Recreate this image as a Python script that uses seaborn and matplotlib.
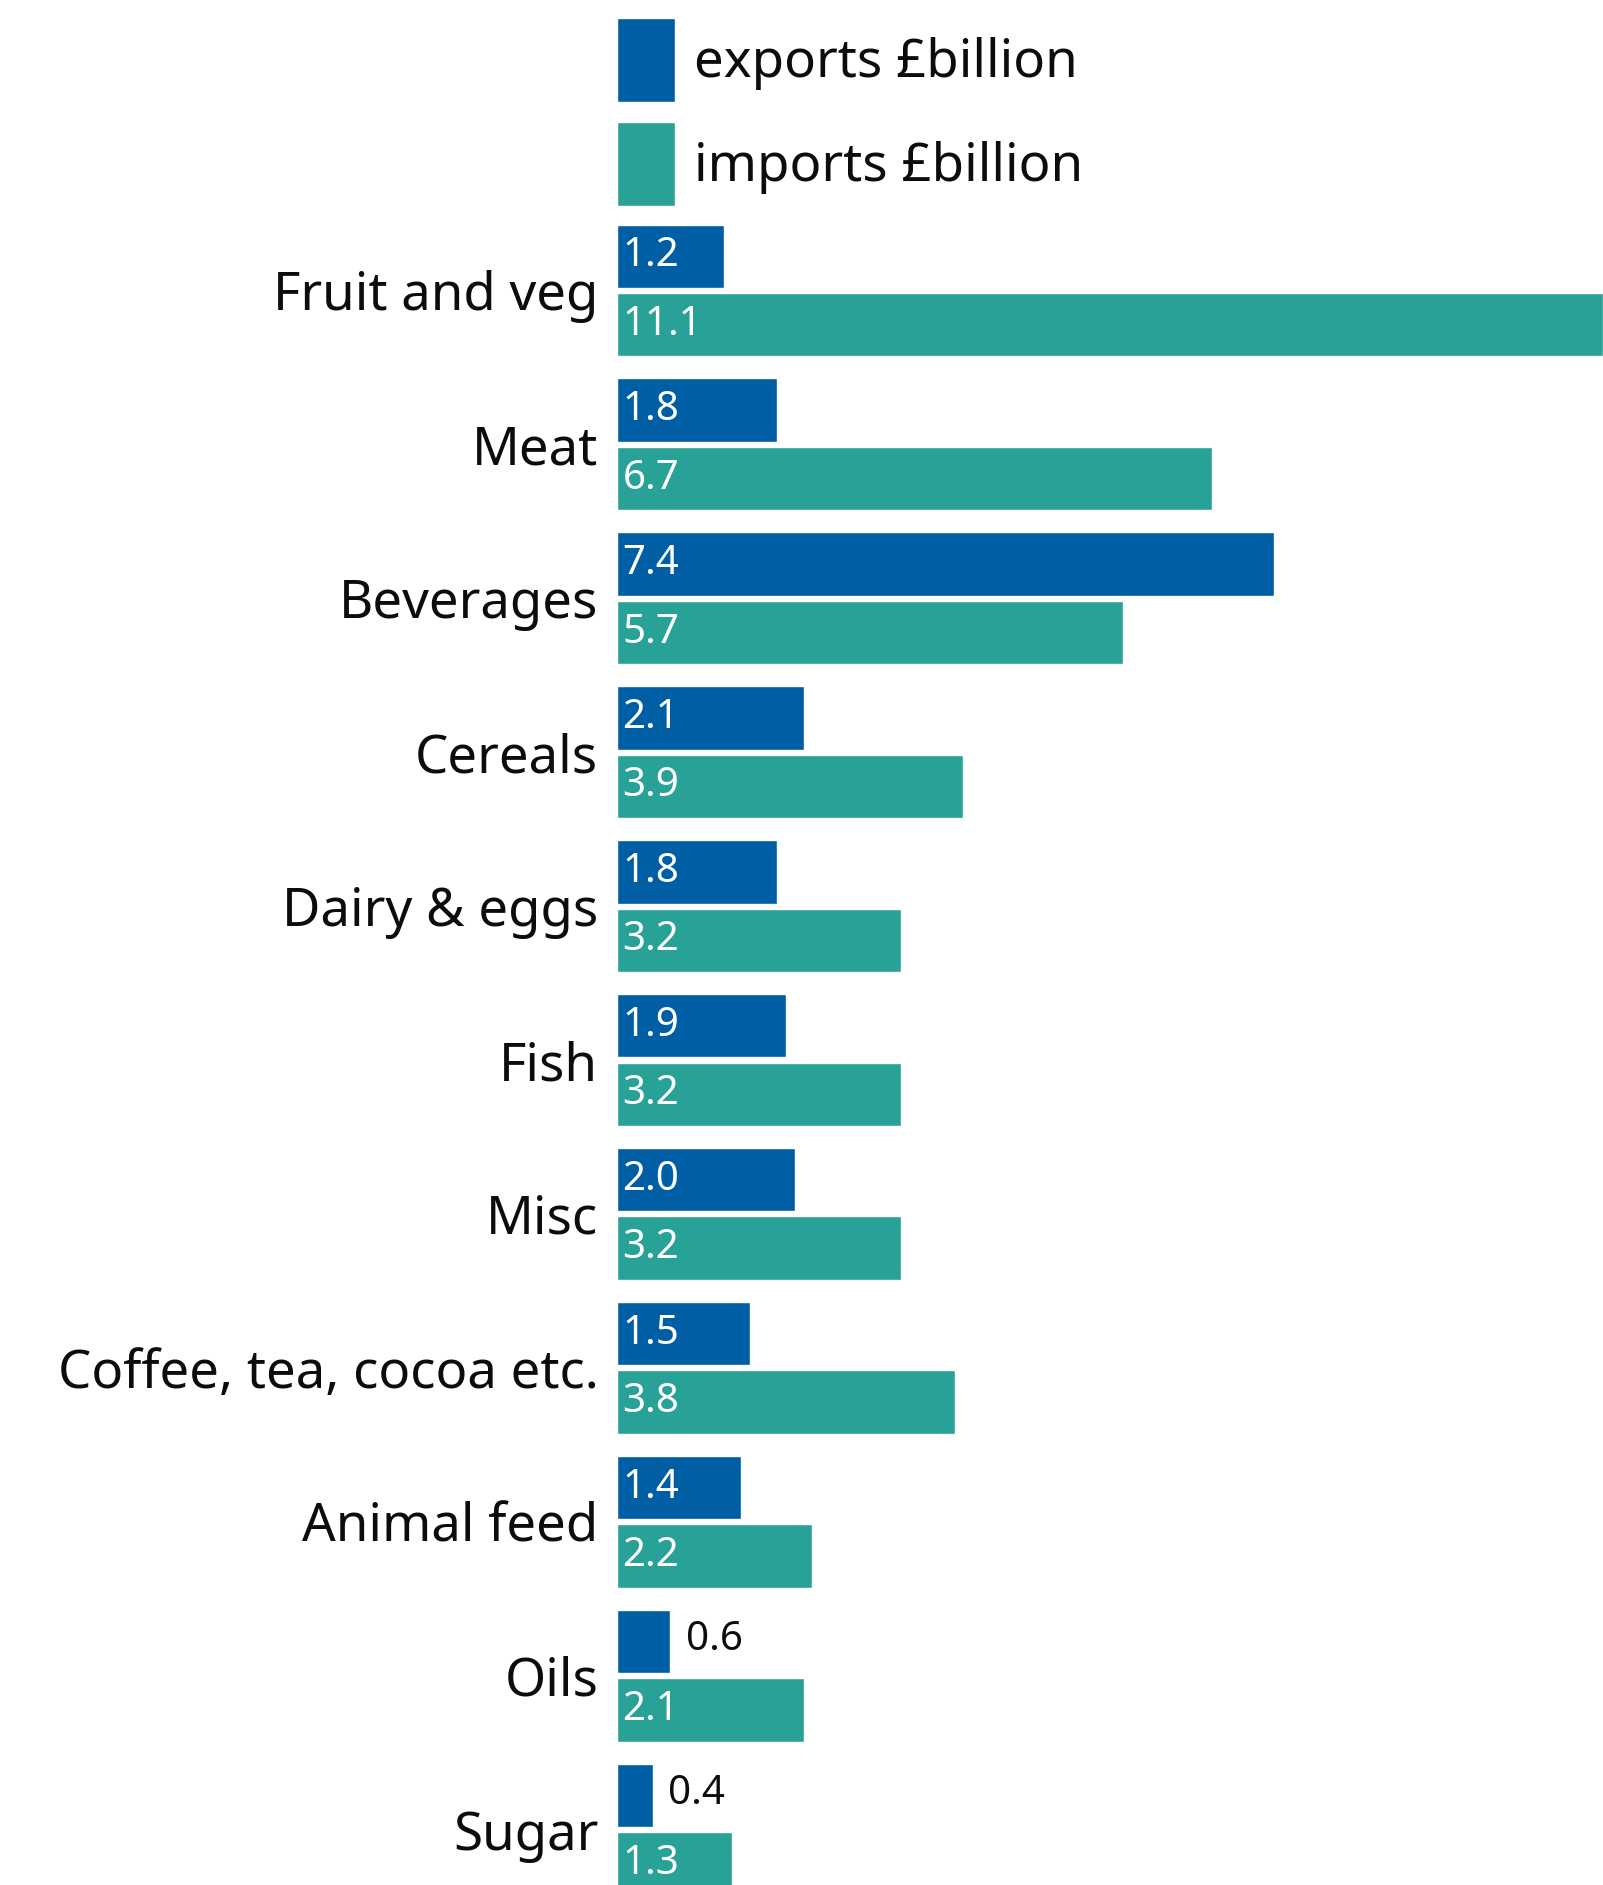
import matplotlib
matplotlib.use("Agg")
import matplotlib.pyplot as plt
import seaborn as sns
import pandas as pd

categories = ["Fruit and veg", "Meat", "Beverages", "Cereals", "Dairy & eggs", "Fish",
              "Misc", "Coffee, tea, cocoa etc.", "Animal feed", "Oils", "Sugar"]
exports = [1.2, 1.8, 7.4, 2.1, 1.8, 1.9, 2.0, 1.5, 1.4, 0.6, 0.4]
imports = [11.1, 6.7, 5.7, 3.9, 3.2, 3.2, 3.2, 3.8, 2.2, 2.1, 1.3]
series_names = ["exports £billion", "imports £billion"]
colors = ["#005ea5", "#28a197"]

df = pd.DataFrame({
    "category": categories * 2,
    "value": exports + imports,
    "series": [series_names[0]] * len(categories) + [series_names[1]] * len(categories),
})

sns.set_theme(style="white")
plt.rcParams["font.family"] = ["Noto Sans", "DejaVu Sans"]

fig = plt.figure(figsize=(16.03, 18.85), dpi=100)
ax = fig.add_axes([617 / 1603, 0.0, 1 - 617 / 1603, 1.0])

sns.barplot(data=df, y="category", x="value", hue="series", order=categories,
            hue_order=series_names, palette=colors, orient="h", width=0.89, gap=0.075,
            saturation=1, edgecolor="white", linewidth=1, ax=ax, legend=True)

ax.set_xlim(0, 11.1)
ax.set_ylim(10.36, -1.887)
ax.set_xlabel("")
ax.set_ylabel("")
ax.set_xticks([])
for s in ax.spines.values():
    s.set_visible(False)
ax.tick_params(axis="y", length=0, pad=13.5, labelsize=38, labelcolor="#0b0c0c")

for cont in ax.containers:
    for patch, val in zip(cont.patches, cont.datavalues):
        y = patch.get_y() + patch.get_height() / 2
        if val >= 1:
            ax.annotate(f"{val:.1f}", xy=(patch.get_x(), y), xytext=(4, 0),
                        textcoords="offset points", ha="left", va="center",
                        fontsize=29, color="white")
        else:
            ax.annotate(f"{val:.1f}", xy=(patch.get_width(), y), xytext=(11, 1),
                        textcoords="offset points", ha="left", va="center",
                        fontsize=29, color="#0b0c0c")

handles, labels = ax.get_legend_handles_labels()
ax.legend(handles, labels, loc="upper left", bbox_to_anchor=(617 / 1603, 1 - 18 / 1885),
          bbox_transform=fig.transFigure, frameon=False, fontsize=38,
          handlelength=1.1, handleheight=2.07, labelspacing=0.38, handletextpad=0.36,
          borderpad=0, borderaxespad=0, labelcolor="#0b0c0c")

fig.savefig("out.png", dpi=100)
